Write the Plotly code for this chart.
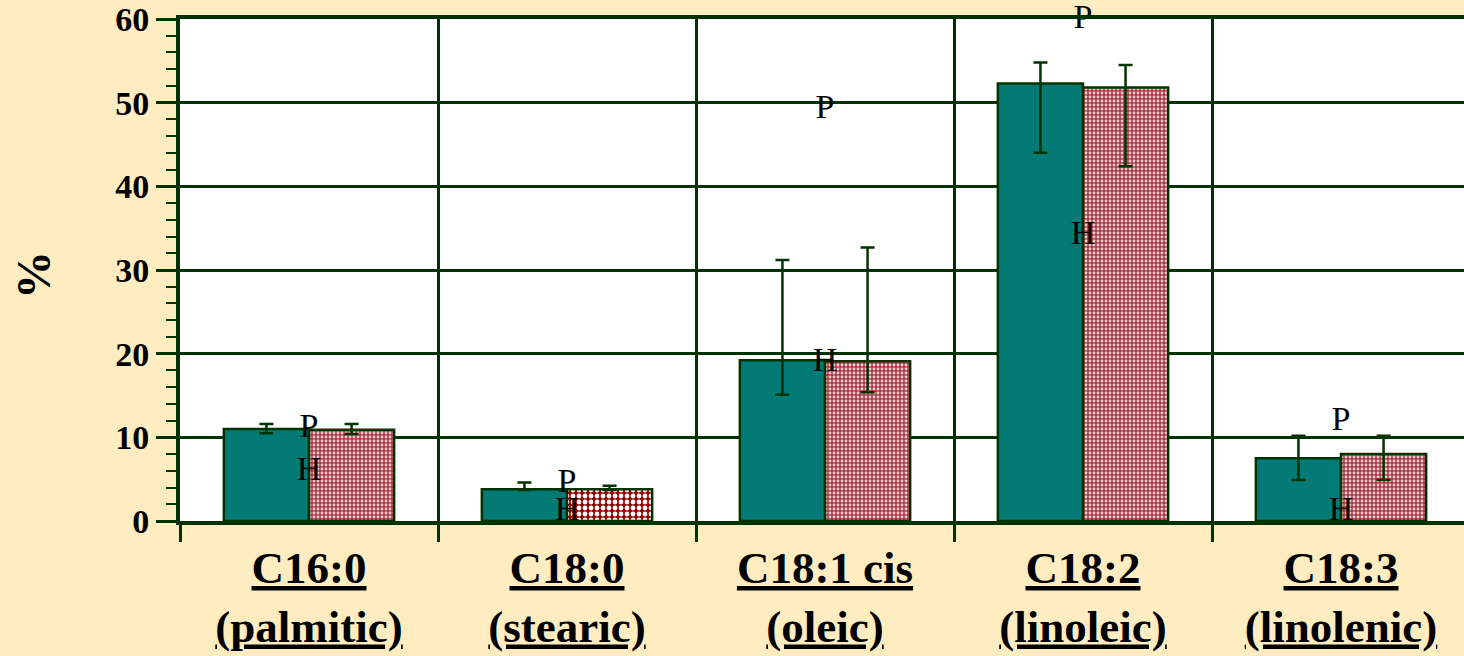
import plotly.graph_objects as go

categories = ["C16:0<br>(palmitic)", "C18:0<br>(stearic)", "C18:1 cis<br>(oleic)",
              "C18:2<br>(linoleic)", "C18:3<br>(linolenic)"]
teal_values = [11.0, 3.8, 19.2, 52.3, 7.5]
teal_err_plus = [0.6, 0.8, 12.0, 2.5, 2.7]
teal_err_minus = [0.5, 0.1, 4.1, 8.3, 2.6]
pink_values = [10.9, 3.8, 19.1, 51.8, 8.0]
pink_err_plus = [0.7, 0.4, 13.6, 2.7, 2.2]
pink_err_minus = [0.5, 0.1, 3.7, 9.4, 3.1]
p_values = [11.1, 4.5, 49.2, 59.9, 11.9]
h_values = [5.9, 1.1, 19.0, 34.1, 1.1]
y_ticks = [0, 10, 20, 30, 40, 50, 60]

DARK = "#003300"
BG = "#FFECC0"
SERIF = "Liberation Serif"

W, H = 1464, 656
L, T, B = 180, 19, 656 - 521
PW = W - L

fig = go.Figure()
fig.add_trace(go.Bar(
    x=categories, y=teal_values,
    marker=dict(color="#047A76", line=dict(color=DARK, width=2.5)),
    error_y=dict(type="data", symmetric=False, array=teal_err_plus,
                 arrayminus=teal_err_minus, color=DARK, thickness=2.5, width=7),
    showlegend=False,
))
fig.add_trace(go.Bar(
    x=categories, y=pink_values,
    marker=dict(color="#A03040", line=dict(color=DARK, width=2.5),
                pattern=dict(shape=".", bgcolor=["#A8384A", "#990000", "#A8384A", "#A8384A", "#A8384A"],
                             fgcolor=["#F0CCCC", "#FFFFFF", "#F0CCCC", "#F0CCCC", "#F0CCCC"],
                             size=[4, 6, 4, 4, 4], solidity=[0.4, 0.5, 0.4, 0.4, 0.4],
                             fillmode="replace")),
    error_y=dict(type="data", symmetric=False, array=pink_err_plus,
                 arrayminus=pink_err_minus, color=DARK, thickness=2.5, width=7),
    showlegend=False,
))
fig.add_trace(go.Scatter(
    x=categories, y=p_values, mode="text", text=["P"] * len(categories),
    textposition="middle center", textfont=dict(family=SERIF, size=34, color="black"),
    cliponaxis=False, showlegend=False,
))
fig.add_trace(go.Scatter(
    x=categories, y=h_values, mode="text", text=["H"] * len(categories),
    textposition="middle center", textfont=dict(family=SERIF, size=34, color="black"),
    cliponaxis=False, showlegend=False,
))

fig.update_layout(
    width=W, height=H,
    margin=dict(l=L, r=0, t=T, b=B, autoexpand=False),
    paper_bgcolor=BG, plot_bgcolor="white",
    barmode="group", bargap=0.34, bargroupgap=0,
    annotations=[dict(text="<b>%</b>", xref="paper", yref="paper",
                      x=(33 - L) / PW, y=0.49, xanchor="center", yanchor="middle",
                      showarrow=False, textangle=-90,
                      font=dict(family=SERIF, size=48, color="black"))],
)
fig.update_xaxes(
    type="category", range=[-0.5, -0.5 + PW / 258],
    tickson="boundaries", ticks="outside", ticklen=17, tickwidth=2.5, tickcolor=DARK,
    showgrid=True, gridcolor=DARK, gridwidth=2.5,
    showline=True, linecolor=DARK, linewidth=4, mirror=True,
    tickfont=dict(family=SERIF, size=45, color="black", weight="bold", lineposition="under"),
    ticklabelstandoff=4,
)
fig.update_yaxes(
    range=[0, 60], tickvals=y_ticks, ticktext=[str(v) for v in y_ticks],
    ticks="outside", ticklen=20, tickwidth=2.5, tickcolor=DARK,
    minor=dict(dtick=2, ticks="outside", ticklen=10, tickwidth=2, tickcolor=DARK, showgrid=False),
    showgrid=True, gridcolor=DARK, gridwidth=2.5, zeroline=False,
    showline=True, linecolor=DARK, linewidth=4,
    ticklabeloverflow="allow",
    tickfont=dict(family=SERIF, size=34, color="black", weight="bold"),
)

fig.write_html("out.html", config={"displayModeBar": False},
               post_script="document.body.style.margin='0px';")
